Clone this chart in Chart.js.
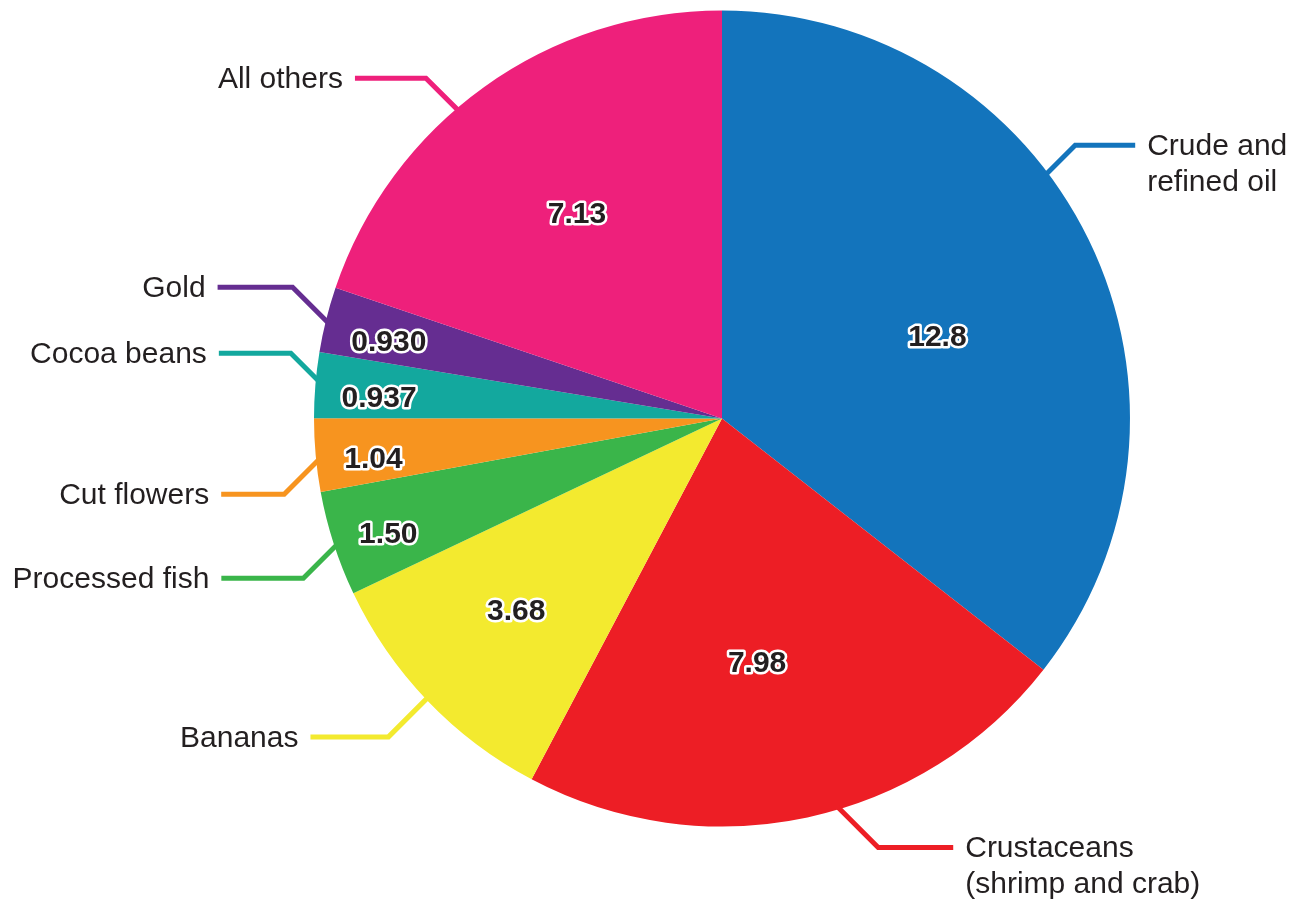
<!DOCTYPE html>
<html>
<head>
<meta charset="utf-8">
<script src="https://cdn.jsdelivr.net/npm/chart.js@4.4.0/dist/chart.umd.min.js"></script>
<style>
    html, body { margin: 0; padding: 0; background: #ffffff; }
    #wrap { width: 1306px; height: 912px; }
</style>
</head>
<body>
<div id="wrap">
    <canvas id="exportsPie" width="1306" height="912"></canvas>
</div>
<script>

// data
var categories = ['Crude and refined oil', 'Crustaceans (shrimp and crab)', 'Bananas', 'Processed fish',
                  'Cut flowers', 'Cocoa beans', 'Gold', 'All others'];
var labelLines = [['Crude and', 'refined oil'], ['Crustaceans', '(shrimp and crab)'], ['Bananas'], ['Processed fish'],
                  ['Cut flowers'], ['Cocoa beans'], ['Gold'], ['All others']];
var values = [12.8, 7.98, 3.68, 1.50, 1.04, 0.937, 0.930, 7.13];
var colors = ['#1374bc', '#ed1e25', '#f3ea2f', '#3ab54a', '#f7941f', '#13a89e', '#652d91', '#ee207b'];

// leader line: [angle fraction inside slice, diagonal length, horizontal length]
var leaderLayout = [[0.414, 29, 60], [0.443, 40, 75], [0.508, 39, 78], [0.479, 33, 82],
                    [0.43, 34, 63], [0.574, 27, 72], [0.463, 35, 75], [0.431, 32, 71]];
// value label: [angle fraction inside slice, radius fraction]
var valueLayout = [[0.54, 0.565], [0.549, 0.605], [0.52, 0.69], [0.425, 0.865],
                   [0.37, 0.86], [0.37, 0.842], [0.39, 0.838], [0.505, 0.615]];

var textColor = '#231f20';

var pieLabels = {
    id: 'pieLabels',
    afterDatasetsDraw: function(chart) {
        var ctx = chart.ctx;
        var arcs = chart.getDatasetMeta(0).data;
        ctx.save();

        // leader lines and category names
        arcs.forEach(function(arc, i) {
            var lay = leaderLayout[i];
            var a = arc.startAngle + (arc.endAngle - arc.startAngle) * lay[0];
            var r = arc.outerRadius * 0.995;
            var x0 = arc.x + r * Math.cos(a);
            var y0 = arc.y + r * Math.sin(a);
            var sx = Math.cos(a) >= 0 ? 1 : -1;
            var sy = Math.sin(a) >= 0 ? 1 : -1;
            var x1 = x0 + sx * lay[1];
            var y1 = y0 + sy * lay[1];
            var x2 = x1 + sx * lay[2];

            ctx.beginPath();
            ctx.moveTo(x0, y0);
            ctx.lineTo(x1, y1);
            ctx.lineTo(x2, y1);
            ctx.strokeStyle = colors[i];
            ctx.lineWidth = 5;
            ctx.lineJoin = 'miter';
            ctx.stroke();

            ctx.font = '30px "Liberation Sans", Arial, sans-serif';
            ctx.fillStyle = textColor;
            ctx.textAlign = sx > 0 ? 'left' : 'right';
            ctx.textBaseline = 'alphabetic';
            var tx = x2 + sx * 12;
            labelLines[i].forEach(function(line, k) {
                ctx.fillText(line, tx, y1 + 10 + k * 36);
            });
        });

        // value labels
        ctx.font = 'bold 30px "Liberation Sans", Arial, sans-serif';
        ctx.textAlign = 'center';
        ctx.textBaseline = 'middle';
        ctx.lineJoin = 'round';
        arcs.forEach(function(arc, i) {
            var lay = valueLayout[i];
            var a = arc.startAngle + (arc.endAngle - arc.startAngle) * lay[0];
            var r = arc.outerRadius * lay[1];
            var x = arc.x + r * Math.cos(a);
            var y = arc.y + r * Math.sin(a) + 1;
            var txt = values[i].toPrecision(3);
            ctx.strokeStyle = '#ffffff';
            ctx.lineWidth = 5;
            ctx.strokeText(txt, x, y);
            ctx.fillStyle = textColor;
            ctx.fillText(txt, x, y);
        });

        ctx.restore();
    }
};

var exportsCtx = document.getElementById('exportsPie').getContext('2d');
var exportsChart = new Chart(exportsCtx, {
    type: 'pie',
    data: {
        labels: categories,
        datasets: [{
            data: values,
            backgroundColor: colors,
            borderWidth: 0
        }]
    },
    options: {
        responsive: false,
        animation: false,
        layout: {
            padding: { top: 10, bottom: 85, left: 314, right: 176 }
        },
        plugins: {
            legend: { display: false },
            tooltip: { enabled: false }
        }
    },
    plugins: [pieLabels]
});
</script>
</body>
</html>
